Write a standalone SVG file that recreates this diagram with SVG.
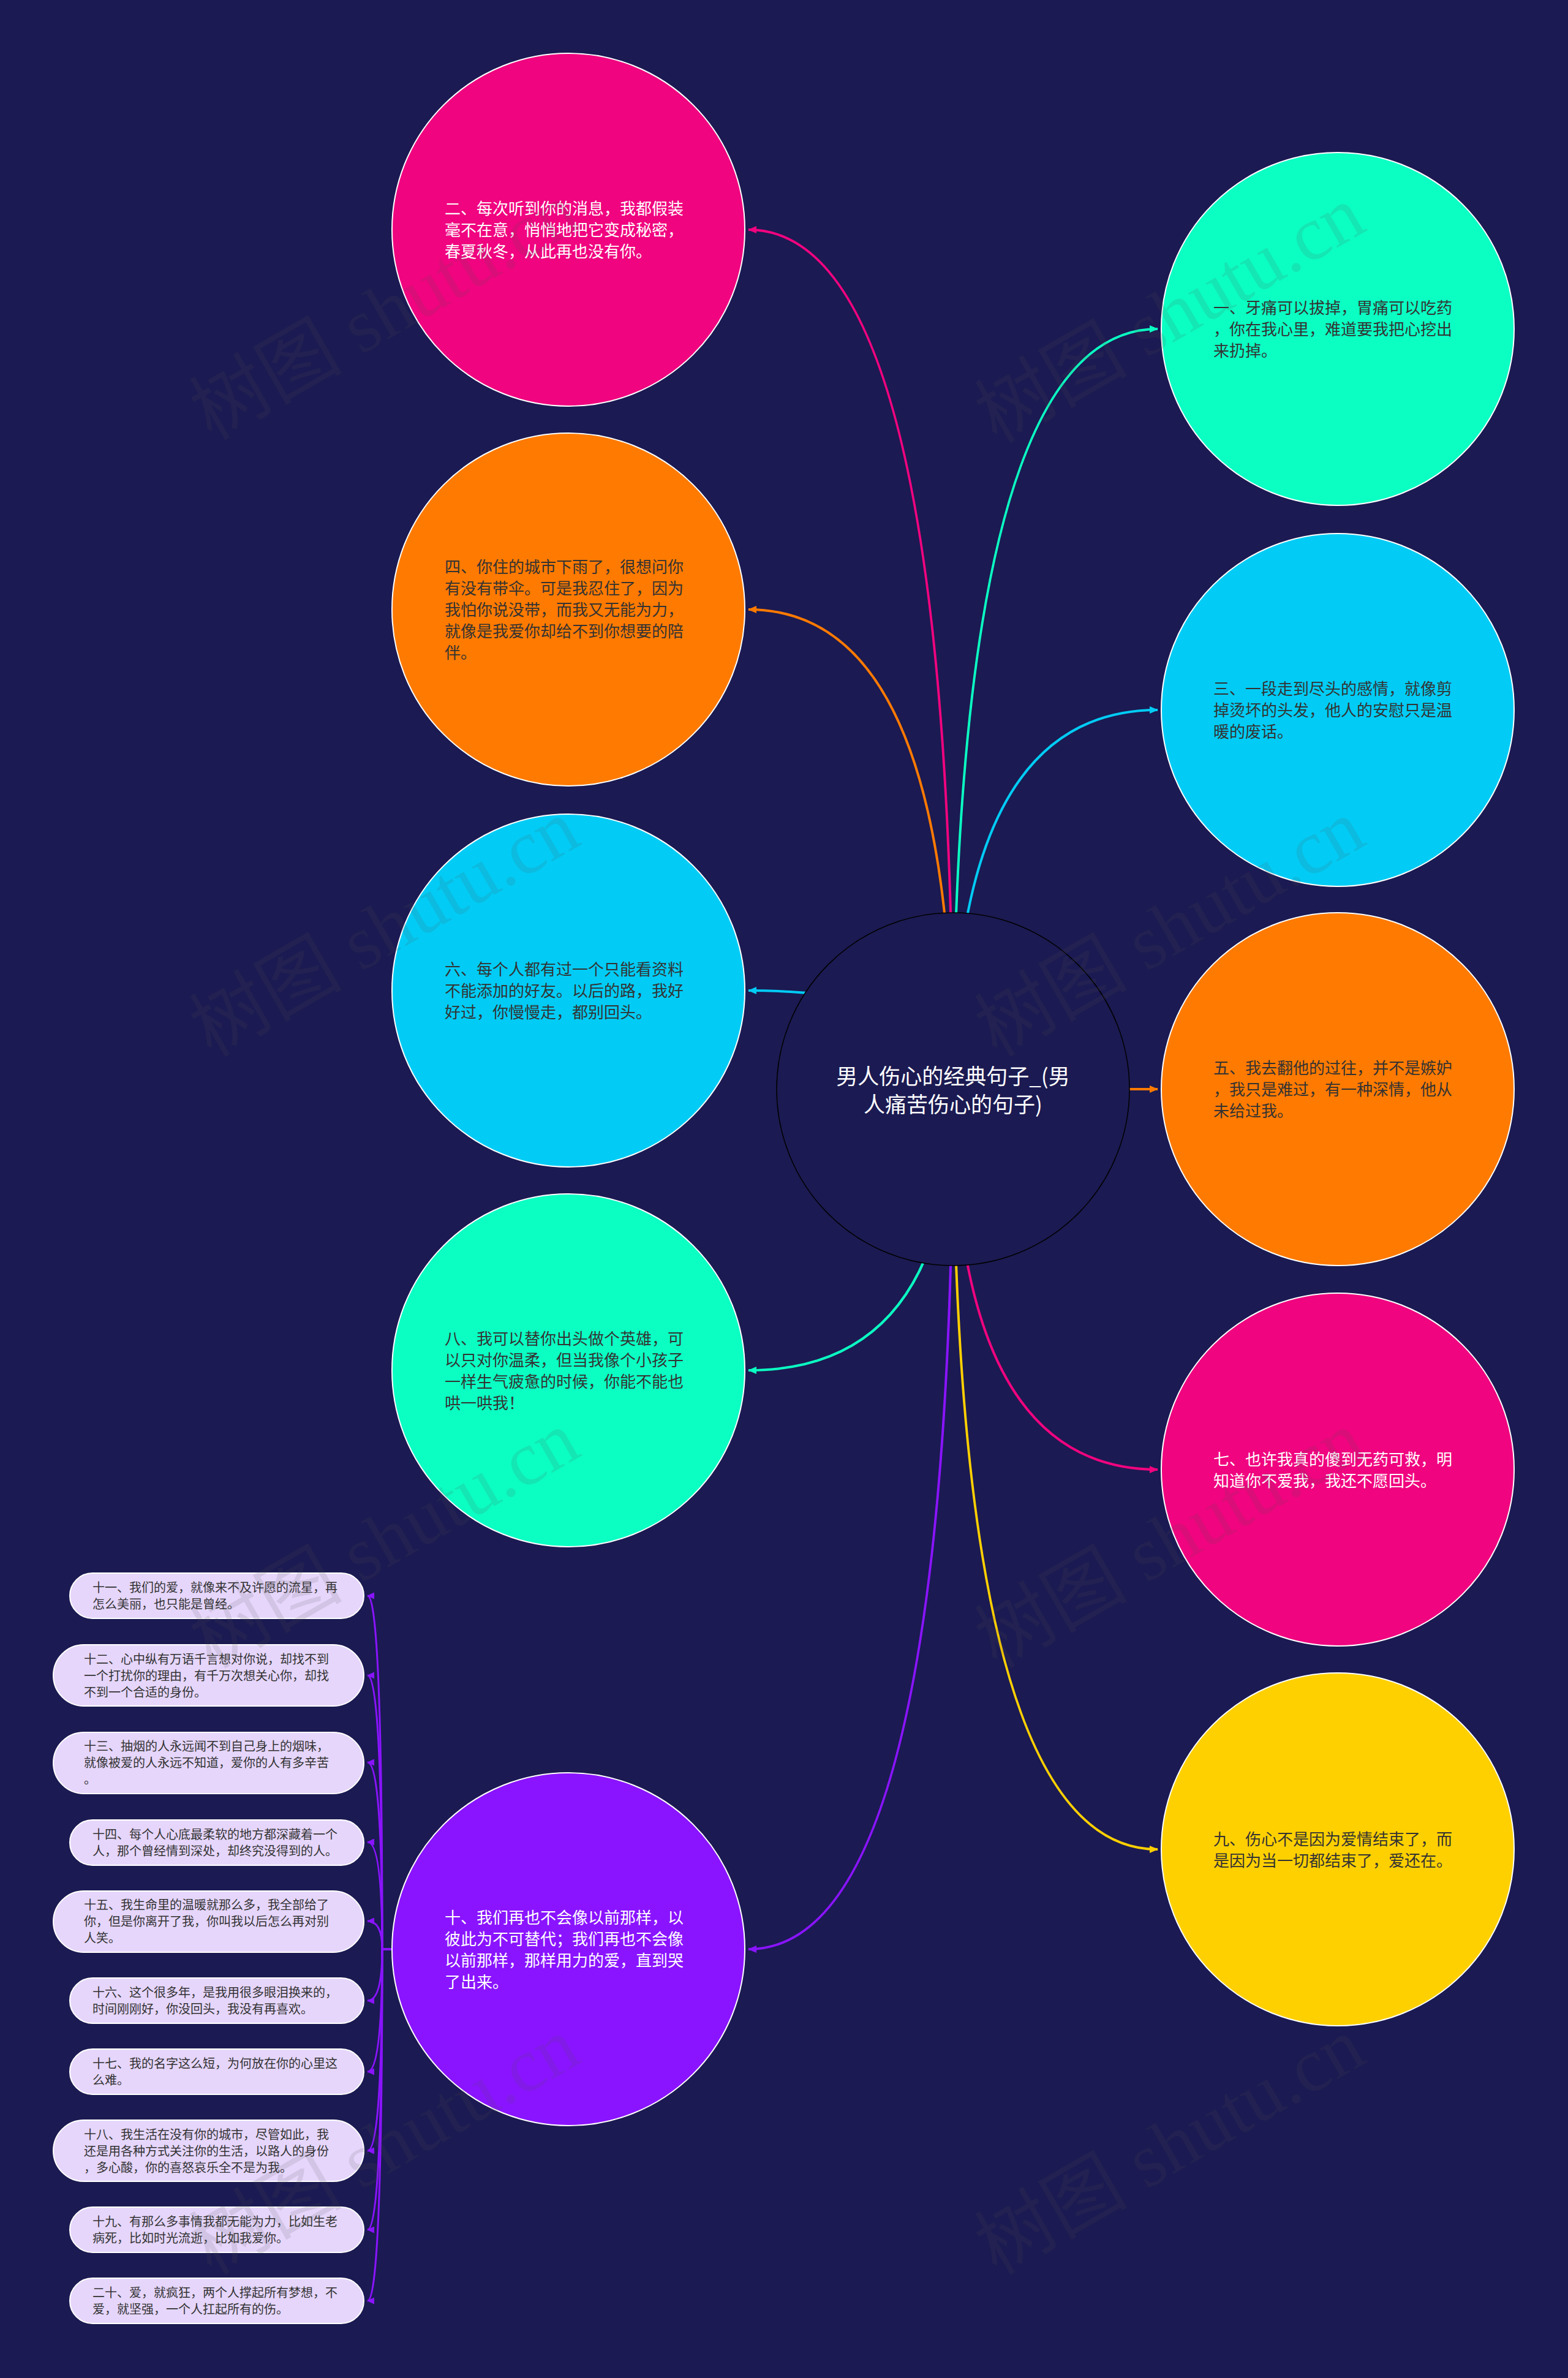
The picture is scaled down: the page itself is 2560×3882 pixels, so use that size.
<svg xmlns="http://www.w3.org/2000/svg" width="2560" height="3882" viewBox="0 0 2560 3882">
<defs>
<style>
.c{stroke:#ffffff;stroke-width:2}
.t{font-family:"Noto Sans CJK SC","Noto Sans",sans-serif;font-size:26px}
.tw{fill:#ffffff}
.td{fill:#333333}
.box{fill:#e6d6fb;stroke:#ffffff;stroke-width:2}
.bt{font-family:"Noto Sans CJK SC","Noto Sans",sans-serif;font-size:20px;fill:#333333}
.ln{fill:none;stroke-width:4}
.sl{fill:none;stroke-width:3;stroke:#8a14ff}
.wm{font-family:"Liberation Serif","Noto Sans CJK SC",serif;font-size:125px;fill:#505050;opacity:0.13}
</style>
<marker id="aPink" markerUnits="userSpaceOnUse" markerWidth="14" markerHeight="12" viewBox="0 0 14 12" refX="13" refY="6" orient="auto"><path d="M0,0 L14,6 L0,12 z" fill="#f0047f"/></marker>
<marker id="aOrange" markerUnits="userSpaceOnUse" markerWidth="14" markerHeight="12" viewBox="0 0 14 12" refX="13" refY="6" orient="auto"><path d="M0,0 L14,6 L0,12 z" fill="#ff7a00"/></marker>
<marker id="aTeal" markerUnits="userSpaceOnUse" markerWidth="14" markerHeight="12" viewBox="0 0 14 12" refX="13" refY="6" orient="auto"><path d="M0,0 L14,6 L0,12 z" fill="#0bffc3"/></marker>
<marker id="aCyan" markerUnits="userSpaceOnUse" markerWidth="14" markerHeight="12" viewBox="0 0 14 12" refX="13" refY="6" orient="auto"><path d="M0,0 L14,6 L0,12 z" fill="#02ccf5"/></marker>
<marker id="aYellow" markerUnits="userSpaceOnUse" markerWidth="14" markerHeight="12" viewBox="0 0 14 12" refX="13" refY="6" orient="auto"><path d="M0,0 L14,6 L0,12 z" fill="#ffd000"/></marker>
<marker id="aPurple" markerUnits="userSpaceOnUse" markerWidth="14" markerHeight="12" viewBox="0 0 14 12" refX="13" refY="6" orient="auto"><path d="M0,0 L14,6 L0,12 z" fill="#8a14ff"/></marker>
<marker id="aPurpleS" markerUnits="userSpaceOnUse" markerWidth="12" markerHeight="11" viewBox="0 0 12 11" refX="11" refY="5.5" orient="auto"><path d="M0,0 L12,5.5 L0,11 z" fill="#8a14ff"/></marker>
</defs>
<rect x="0" y="0" width="2560" height="3882" fill="#1b1a52"/>

<g id="connectors">
<path class="ln" stroke="#f0047f" marker-end="url(#aPink)" d="M1556 1778 Q1556 375 1222 375"/>
<path class="ln" stroke="#ff7a00" marker-end="url(#aOrange)" d="M1556 1778 Q1556 995 1222 995"/>
<path class="ln" stroke="#02ccf5" marker-end="url(#aCyan)" d="M1556 1778 Q1556 1617 1222 1617"/>
<path class="ln" stroke="#0bffc3" marker-end="url(#aTeal)" d="M1556 1778 Q1556 2237 1222 2237"/>
<path class="ln" stroke="#8a14ff" marker-end="url(#aPurple)" d="M1556 1778 Q1556 3182 1222 3182"/>
<path class="ln" stroke="#0bffc3" marker-end="url(#aTeal)" d="M1556 1778 Q1556 537 1890 537"/>
<path class="ln" stroke="#02ccf5" marker-end="url(#aCyan)" d="M1556 1778 Q1556 1159 1890 1159"/>
<path class="ln" stroke="#ff7a00" marker-end="url(#aOrange)" d="M1556 1778 L1890 1778"/>
<path class="ln" stroke="#f0047f" marker-end="url(#aPink)" d="M1556 1778 Q1556 2399 1890 2399"/>
<path class="ln" stroke="#ffd000" marker-end="url(#aYellow)" d="M1556 1778 Q1556 3019 1890 3019"/>
<path class="sl" marker-end="url(#aPurpleS)" d="M640 3182 H624 Q624 2605 600 2605"/>
<path class="sl" marker-end="url(#aPurpleS)" d="M640 3182 H624 Q624 2735 600 2735"/>
<path class="sl" marker-end="url(#aPurpleS)" d="M640 3182 H624 Q624 2877 600 2877"/>
<path class="sl" marker-end="url(#aPurpleS)" d="M640 3182 H624 Q624 3007 600 3007"/>
<path class="sl" marker-end="url(#aPurpleS)" d="M640 3182 H624 Q624 3136 600 3136"/>
<path class="sl" marker-end="url(#aPurpleS)" d="M640 3182 H624 Q624 3266 600 3266"/>
<path class="sl" marker-end="url(#aPurpleS)" d="M640 3182 H624 Q624 3382 600 3382"/>
<path class="sl" marker-end="url(#aPurpleS)" d="M640 3182 H624 Q624 3511 600 3511"/>
<path class="sl" marker-end="url(#aPurpleS)" d="M640 3182 H624 Q624 3640 600 3640"/>
<path class="sl" marker-end="url(#aPurpleS)" d="M640 3182 H624 Q624 3756 600 3756"/>
</g>

<g id="root">
<circle cx="1556" cy="1778" r="288" fill="#1b1a52" stroke="#000000" stroke-width="1.5"/>
<text x="1556" y="1770" text-anchor="middle" font-family="Noto Sans CJK SC, Noto Sans, sans-serif" font-size="35" fill="#ffffff">男人伤心的经典句子_(男</text>
<text x="1556" y="1816" text-anchor="middle" font-family="Noto Sans CJK SC, Noto Sans, sans-serif" font-size="35" fill="#ffffff">人痛苦伤心的句子)</text>
</g>

<g id="n2">
<circle class="c" cx="928" cy="375" r="288" fill="#f0047f"/>
<text class="t tw"><tspan x="726" y="350">二、每次听到你的消息，我都假装</tspan><tspan x="726" y="385">毫不在意，悄悄地把它变成秘密，</tspan><tspan x="726" y="420">春夏秋冬，从此再也没有你。</tspan></text>
</g>
<g id="n4">
<circle class="c" cx="928" cy="995" r="288" fill="#ff7a00"/>
<text class="t td"><tspan x="726" y="935">四、你住的城市下雨了，很想问你</tspan><tspan x="726" y="970">有没有带伞。可是我忍住了，因为</tspan><tspan x="726" y="1005">我怕你说没带，而我又无能为力，</tspan><tspan x="726" y="1040">就像是我爱你却给不到你想要的陪</tspan><tspan x="726" y="1075">伴。</tspan></text>
</g>
<g id="n6">
<circle class="c" cx="928" cy="1617" r="288" fill="#02ccf5"/>
<text class="t td"><tspan x="726" y="1592">六、每个人都有过一个只能看资料</tspan><tspan x="726" y="1627">不能添加的好友。以后的路，我好</tspan><tspan x="726" y="1662">好过，你慢慢走，都别回头。</tspan></text>
</g>
<g id="n8">
<circle class="c" cx="928" cy="2237" r="288" fill="#0bffc3"/>
<text class="t td"><tspan x="726" y="2194.5">八、我可以替你出头做个英雄，可</tspan><tspan x="726" y="2229.5">以只对你温柔，但当我像个小孩子</tspan><tspan x="726" y="2264.5">一样生气疲惫的时候，你能不能也</tspan><tspan x="726" y="2299.5">哄一哄我！</tspan></text>
</g>
<g id="n10">
<circle class="c" cx="928" cy="3182" r="288" fill="#8a14ff"/>
<text class="t tw"><tspan x="726" y="3139.5">十、我们再也不会像以前那样，以</tspan><tspan x="726" y="3174.5">彼此为不可替代；我们再也不会像</tspan><tspan x="726" y="3209.5">以前那样，那样用力的爱，直到哭</tspan><tspan x="726" y="3244.5">了出来。</tspan></text>
</g>
<g id="n1">
<circle class="c" cx="2184" cy="537" r="288" fill="#0bffc3"/>
<text class="t td"><tspan x="1981" y="512">一、牙痛可以拔掉，胃痛可以吃药</tspan><tspan x="1981" y="547">，你在我心里，难道要我把心挖出</tspan><tspan x="1981" y="582">来扔掉。</tspan></text>
</g>
<g id="n3">
<circle class="c" cx="2184" cy="1159" r="288" fill="#02ccf5"/>
<text class="t td"><tspan x="1981" y="1134">三、一段走到尽头的感情，就像剪</tspan><tspan x="1981" y="1169">掉烫坏的头发，他人的安慰只是温</tspan><tspan x="1981" y="1204">暖的废话。</tspan></text>
</g>
<g id="n5">
<circle class="c" cx="2184" cy="1778" r="288" fill="#ff7a00"/>
<text class="t td"><tspan x="1981" y="1753">五、我去翻他的过往，并不是嫉妒</tspan><tspan x="1981" y="1788">，我只是难过，有一种深情，他从</tspan><tspan x="1981" y="1823">未给过我。</tspan></text>
</g>
<g id="n7">
<circle class="c" cx="2184" cy="2399" r="288" fill="#f0047f"/>
<text class="t tw"><tspan x="1981" y="2391.5">七、也许我真的傻到无药可救，明</tspan><tspan x="1981" y="2426.5">知道你不爱我，我还不愿回头。</tspan></text>
</g>
<g id="n9">
<circle class="c" cx="2184" cy="3019" r="288" fill="#ffd000"/>
<text class="t td"><tspan x="1981" y="3011.5">九、伤心不是因为爱情结束了，而</tspan><tspan x="1981" y="3046.5">是因为当一切都结束了，爱还在。</tspan></text>
</g>

<g id="n11"><rect class="box" x="114" y="2568" width="480" height="74" rx="37"/>
<text class="bt"><tspan x="151" y="2599">十一、我们的爱，就像来不及许愿的流星，再</tspan><tspan x="151" y="2626">怎么美丽，也只能是曾经。</tspan></text></g>
<g id="n12"><rect class="box" x="87" y="2685" width="507" height="100" rx="50"/>
<text class="bt"><tspan x="137" y="2716">十二、心中纵有万语千言想对你说，却找不到</tspan><tspan x="137" y="2743">一个打扰你的理由，有千万次想关心你，却找</tspan><tspan x="137" y="2770">不到一个合适的身份。</tspan></text></g>
<g id="n13"><rect class="box" x="87" y="2828" width="507" height="100" rx="50"/>
<text class="bt"><tspan x="137" y="2858">十三、抽烟的人永远闻不到自己身上的烟味，</tspan><tspan x="137" y="2885">就像被爱的人永远不知道，爱你的人有多辛苦</tspan><tspan x="137" y="2912">。</tspan></text></g>
<g id="n14"><rect class="box" x="114" y="2971" width="480" height="74" rx="37"/>
<text class="bt"><tspan x="151" y="3002">十四、每个人心底最柔软的地方都深藏着一个</tspan><tspan x="151" y="3029">人，那个曾经情到深处，却终究没得到的人。</tspan></text></g>
<g id="n15"><rect class="box" x="87" y="3087" width="507" height="100" rx="50"/>
<text class="bt"><tspan x="137" y="3117">十五、我生命里的温暖就那么多，我全部给了</tspan><tspan x="137" y="3144">你，但是你离开了我，你叫我以后怎么再对别</tspan><tspan x="137" y="3171">人笑。</tspan></text></g>
<g id="n16"><rect class="box" x="114" y="3229" width="480" height="74" rx="37"/>
<text class="bt"><tspan x="151" y="3260">十六、这个很多年，是我用很多眼泪换来的，</tspan><tspan x="151" y="3287">时间刚刚好，你没回头，我没有再喜欢。</tspan></text></g>
<g id="n17"><rect class="box" x="114" y="3345" width="480" height="74" rx="37"/>
<text class="bt"><tspan x="151" y="3376">十七、我的名字这么短，为何放在你的心里这</tspan><tspan x="151" y="3403">么难。</tspan></text></g>
<g id="n18"><rect class="box" x="87" y="3461" width="507" height="100" rx="50"/>
<text class="bt"><tspan x="137" y="3492">十八、我生活在没有你的城市，尽管如此，我</tspan><tspan x="137" y="3519">还是用各种方式关注你的生活，以路人的身份</tspan><tspan x="137" y="3546">，多心酸，你的喜怒哀乐全不是为我。</tspan></text></g>
<g id="n19"><rect class="box" x="114" y="3603" width="480" height="74" rx="37"/>
<text class="bt"><tspan x="151" y="3634">十九、有那么多事情我都无能为力，比如生老</tspan><tspan x="151" y="3661">病死，比如时光流逝，比如我爱你。</tspan></text></g>
<g id="n20"><rect class="box" x="114" y="3719" width="480" height="74" rx="37"/>
<text class="bt"><tspan x="151" y="3750">二十、爱，就疯狂，两个人撑起所有梦想，不</tspan><tspan x="151" y="3777">爱，就坚强，一个人扛起所有的伤。</tspan></text></g>

<g id="watermark">
<text class="wm" text-anchor="middle" transform="translate(649 545) rotate(-30)">树图 shutu.cn</text>
<text class="wm" text-anchor="middle" transform="translate(1931 550) rotate(-30)">树图 shutu.cn</text>
<text class="wm" text-anchor="middle" transform="translate(649 1552) rotate(-30)">树图 shutu.cn</text>
<text class="wm" text-anchor="middle" transform="translate(1931 1552) rotate(-30)">树图 shutu.cn</text>
<text class="wm" text-anchor="middle" transform="translate(649 2550) rotate(-30)">树图 shutu.cn</text>
<text class="wm" text-anchor="middle" transform="translate(1931 2550) rotate(-30)">树图 shutu.cn</text>
<text class="wm" text-anchor="middle" transform="translate(649 3540) rotate(-30)">树图 shutu.cn</text>
<text class="wm" text-anchor="middle" transform="translate(1931 3540) rotate(-30)">树图 shutu.cn</text>
</g>
</svg>
